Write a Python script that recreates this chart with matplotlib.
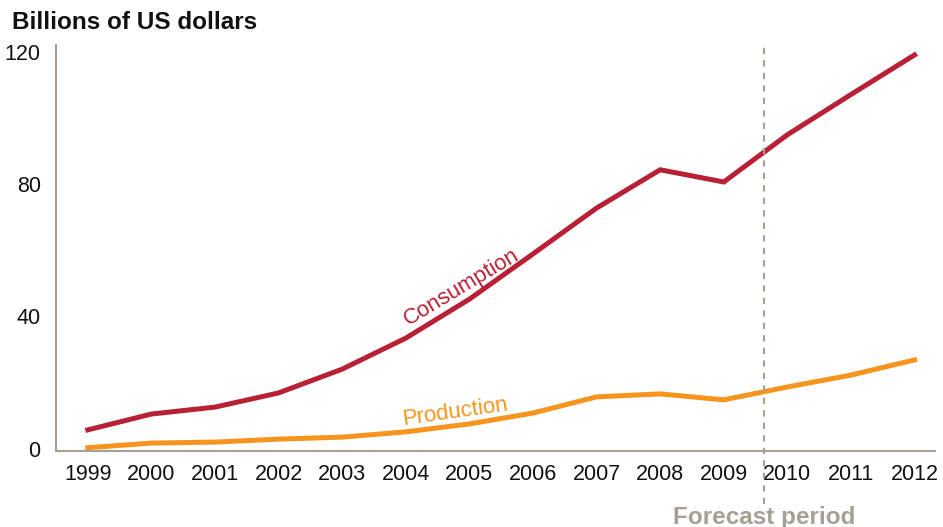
import matplotlib.pyplot as plt

years = [1999, 2000, 2001, 2002, 2003, 2004, 2005, 2006, 2007, 2008, 2009, 2010, 2011, 2012]
consumption = [6.4, 11.2, 13.3, 17.6, 24.8, 34.2, 46.0, 59.7, 73.6, 85.2, 81.5, 95.8, 108.0, 120.0]
production = [1.0, 2.4, 2.7, 3.6, 4.2, 5.8, 8.2, 11.5, 16.4, 17.3, 15.5, 19.4, 23.0, 27.6]
yticks = [0, 40, 80, 120]
forecast_start = 2009.64

plt.rcParams['font.family'] = ['Liberation Sans', 'DejaVu Sans']

red = '#b82035'
orange = '#f7941d'
grey = '#a89f94'

fig = plt.figure(figsize=(9.43, 5.27), dpi=100)
ax = fig.add_axes([0.0594, 0.1442, 0.932, 0.7704])

ax.plot(years, consumption, color=red, lw=3.6, solid_joinstyle='miter')
ax.plot(years, production, color=orange, lw=3.6, solid_joinstyle='miter')

ax.set_xlim(1998.5, 2012.32)
ax.set_ylim(0, 123)
ax.set_xticks(years)
ax.set_yticks(yticks)
ax.tick_params(length=0, labelsize=15.5, colors='#111111')
ax.tick_params(axis='x', pad=9)
ax.tick_params(axis='y', pad=11)
for lab in ax.get_yticklabels():
    lab.set_verticalalignment('center')

for side in ['top', 'right']:
    ax.spines[side].set_visible(False)
for side in ['left', 'bottom']:
    ax.spines[side].set_color(grey)
    ax.spines[side].set_linewidth(1.5)

# forecast divider, running below the axis
ax.axvline(forecast_start, ymin=-0.13, ymax=1.0, color=grey, lw=1.5,
           ls=(0, (3, 3)), clip_on=False)
ax.text(forecast_start, -20, 'Forecast period', ha='center', va='center',
        fontsize=17.5, fontweight='bold', color=grey)

ax.text(2004.88, 49.7, 'Consumption', color=red, fontsize=16,
        rotation=31, ha='center', va='center', rotation_mode='anchor')
ax.text(2004.77, 11.8, 'Production', color=orange, fontsize=16,
        rotation=8, ha='center', va='center', rotation_mode='anchor')

fig.text(0.0127, 0.958, 'Billions of US dollars', fontsize=17.5,
         fontweight='bold', ha='left', va='center', color='#111111')

fig.savefig('out.png', dpi=100)
